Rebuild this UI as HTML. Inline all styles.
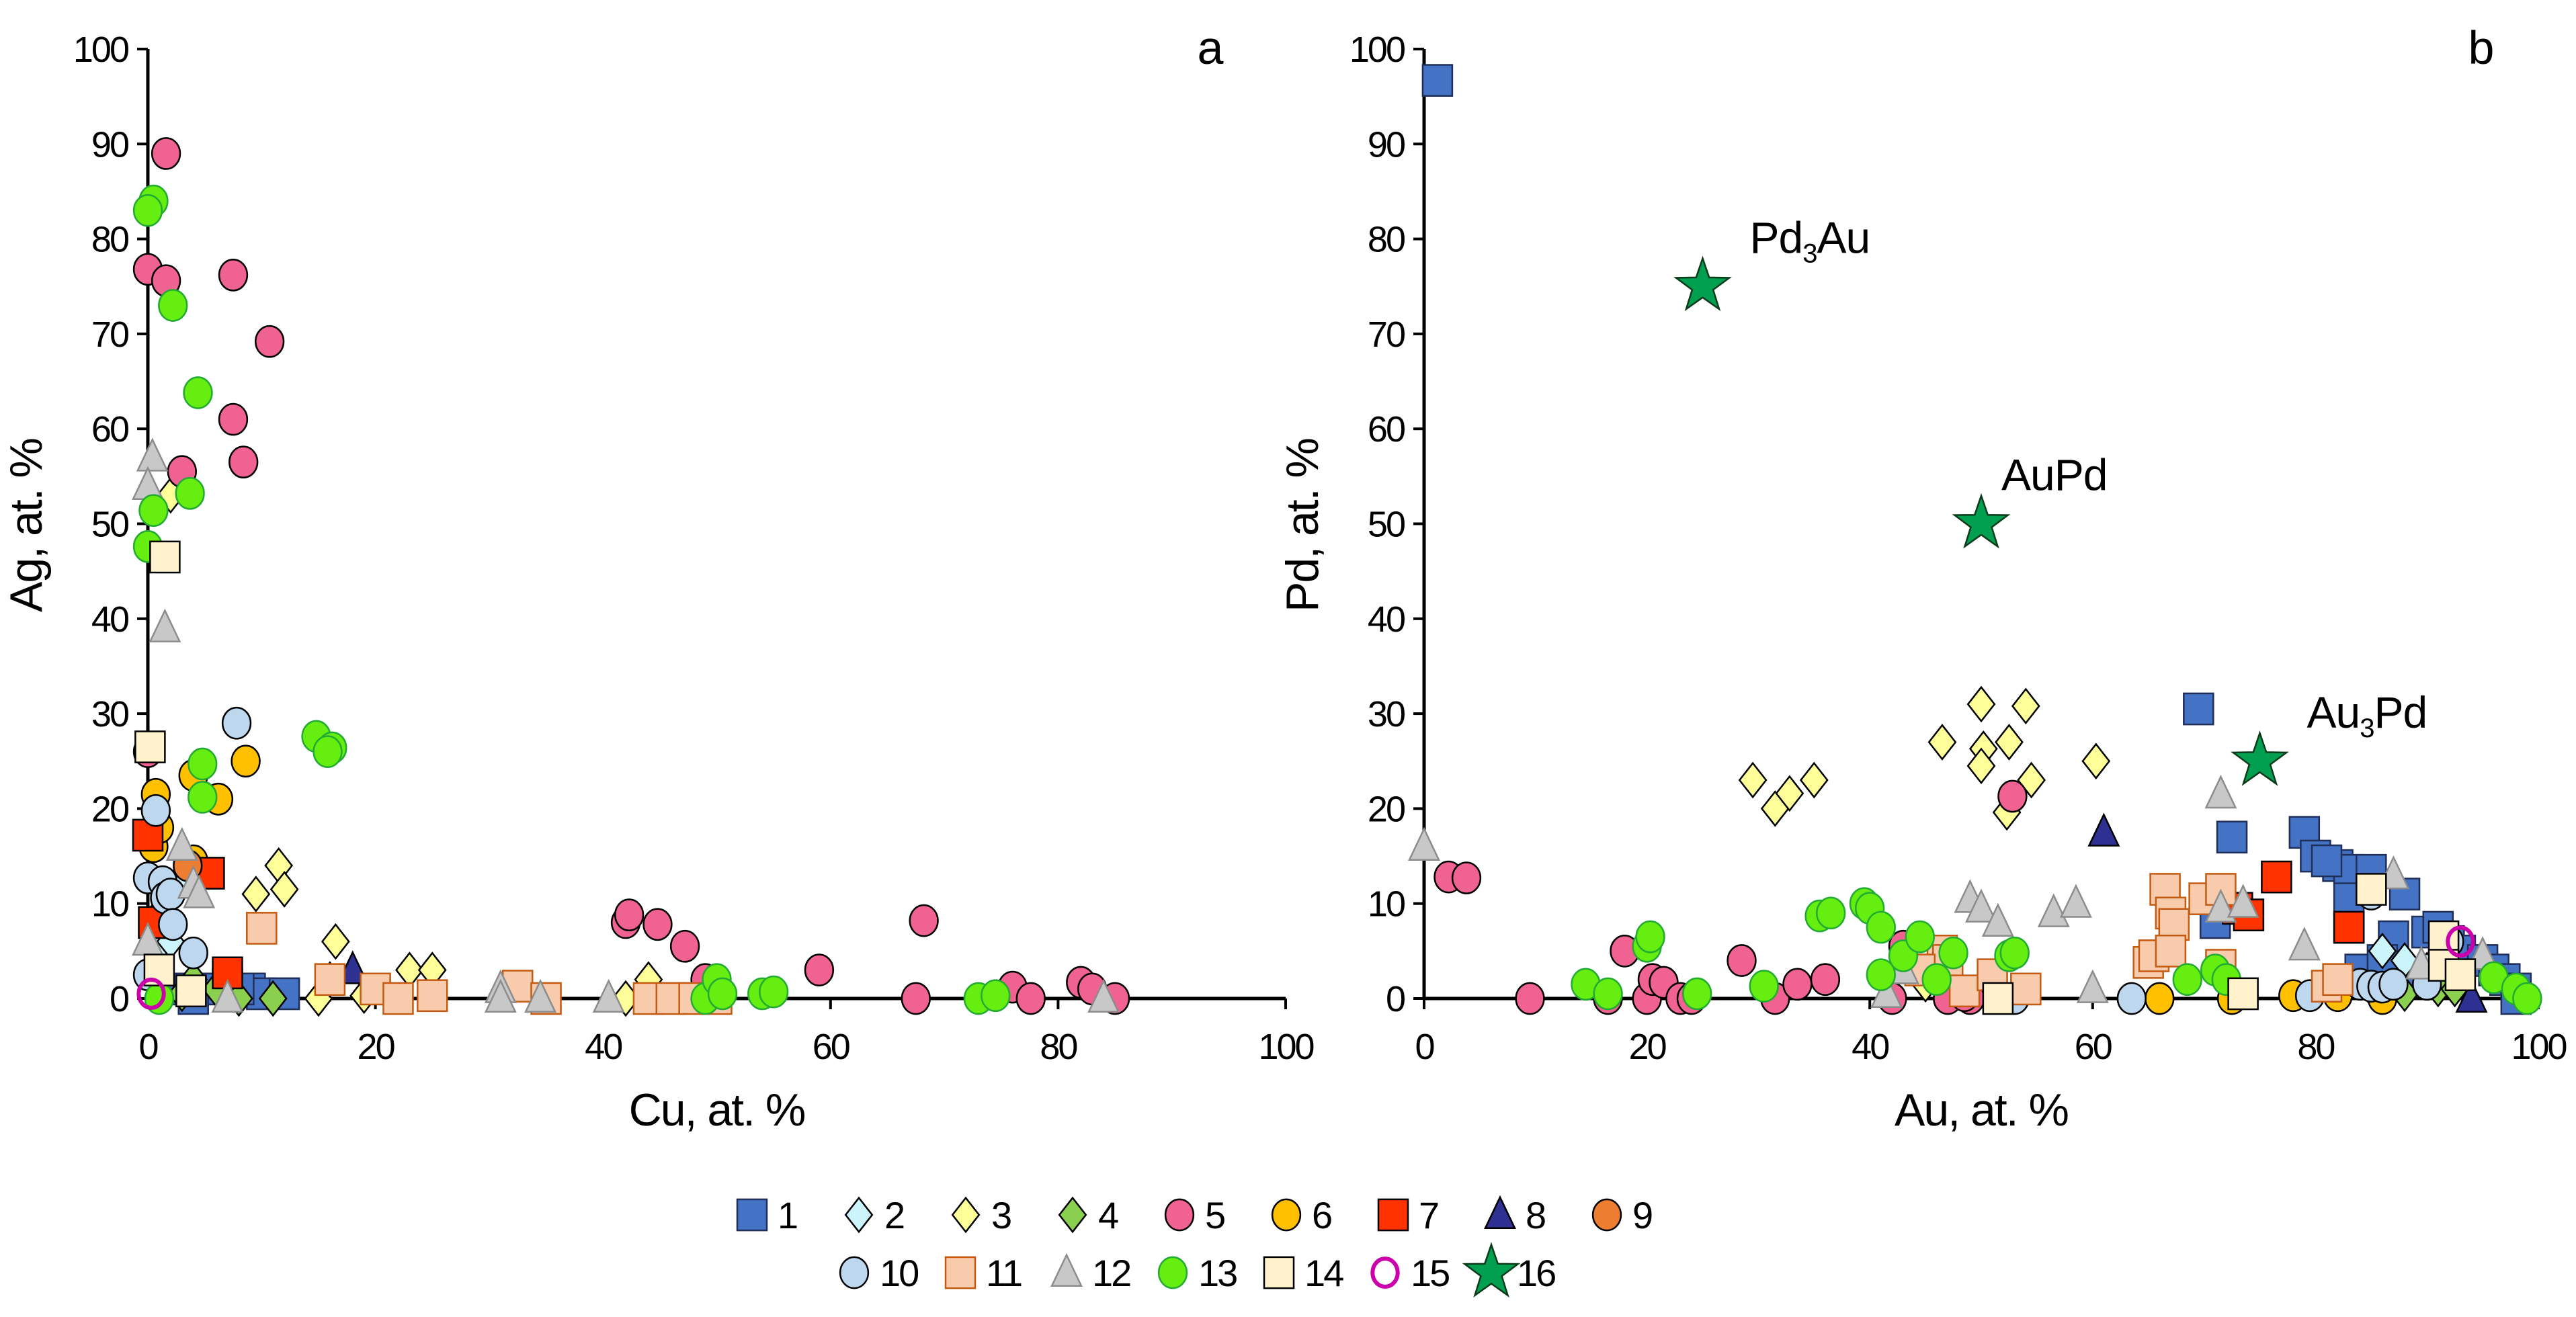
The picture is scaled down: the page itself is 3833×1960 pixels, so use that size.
<!DOCTYPE html>
<html><head><meta charset="utf-8">
<style>
html,body{margin:0;padding:0;background:#fff;}
svg{display:block;font-family:"Liberation Sans",sans-serif;}
</style></head>
<body>
<svg id="chart" width="3833" height="1960" viewBox="0 0 3833 1960" xmlns="http://www.w3.org/2000/svg">
<rect width="3833" height="1960" fill="#fff"/>
<g id="pa"></g>
<g id="pb"></g>
<g id="lg"></g>
</svg>
<script>
const seriesIds = [1,2,3,4,5,6,7,8,9,10,11,12,13,14,15,16];
const xTicks = [0,20,40,60,80,100];
const yTicks = [0,10,20,30,40,50,60,70,80,90,100];
// Panel a: Cu (x) vs Ag (y)
const aX = {
1:[3,5,7,9,10,12,4,8],
2:[1,2,3,1],
3:[9.5,11.5,12,16.5,2,15,16,19,23,25,42,44],
4:[4,6,8,11,3],
5:[1.6,0,1.6,7.5,10.7,7.5,8.4,3,0,42,42.3,44.8,47.2,49,59,67.5,68.2,76,77.6,82,83,85],
6:[8.6,6.2,4,0.7,0.5,4,1],
7:[0,5.4,7,0.5],
8:[18],
9:[3.5],
10:[7.8,0.7,0,1.3,1.5,2,2.2,4,0],
11:[10,16,20,22,25,32.5,35,44,46,48,50],
12:[0.4,0,1.5,3,4,4.5,0,7,31,31,34.5,40.5,84],
13:[0.5,0,2.2,4.4,3.7,0.5,0,14.8,16.2,15.8,4.8,4.8,49,50,50.5,54,55,73,74.5,1],
14:[1.5,0.2,1,3.8],
15:[0.3],
16:[]
};
const aY = {
1:[1,1,1.5,1,0.5,0.5,0,1],
2:[5,6,12,9],
3:[11,14,11.5,6,53,0,2,0.3,3,3,0,2],
4:[2,1,0,0,0.5],
5:[89,76.8,75.6,76.2,69.2,61,56.5,55.5,26,8,8.8,7.8,5.5,2,3,0,8.2,1.2,0,1.7,1,0],
6:[25,21,23.5,21.5,16,14.5,18],
7:[17.2,13.2,2.7,8],
8:[3],
9:[14],
10:[29,19.8,12.7,12.3,10.6,11,7.8,4.8,2.5],
11:[7.4,2,1,0,0.3,1.3,0,0,0,0,0],
12:[57,54,39,16,12,11,6,0,1,0,0,0,0],
13:[84,83,73,63.8,53.2,51.4,47.6,27.6,26.4,26,24.7,21.2,0,2,0.5,0.5,0.7,0,0.3,0],
14:[46.5,26.5,3,0.8],
15:[0.5],
16:[]
};
// Panel b: Au (x) vs Pd (y)
const bX = {
1:[1.2,69.5,72.5,79,80,82,83,85,88,81,83,83,87,71,84,90,91,92,93,95,96,97,98,98,86,89],
2:[86,88,85,90],
3:[29.5,31.5,32.8,35,46.5,50,54,50.2,50,52.5,54.5,52.3,60.3,45],
4:[88,91,92.5,83],
5:[2.2,3.8,18,9.5,16.5,20,20.5,21.5,23,24,28.5,31.5,33.5,36,42,43,47,49,52.8,48.5],
6:[66,72.5,78,82,86],
7:[76.5,73,74,83],
8:[61,94],
9:[],
10:[63.5,53,79.5,84,85,86,87,90,92,85],
11:[66.5,67,67.3,70,71.5,71.5,65,65.5,67,46.5,47,48.5,51,54,81,82,44.5],
12:[0,71.5,49,50,51.5,56.5,58.5,71.5,73.5,79,87,89.5,95,41.5,43,60],
13:[14.5,16.5,20,20.3,24.5,30.5,35.5,36.5,39.5,40,41,41,43,44.5,46,47.5,52.5,53,68.5,71,72,96,98,99],
14:[51.5,73.5,85,91.5,91.5,93],
15:[93],
16:[25,50,75]
};
const bY = {
1:[96.7,30.5,17,17.5,15,14,13.5,13.5,11,14.5,10.5,7.5,6.5,8,3,7,7.5,6,5,4,3,2,1,0,4,2],
2:[5,4,1,3],
3:[23,20,21.6,23,27,31,30.8,26.3,24.5,27,23,19.6,25,1.5],
4:[0.5,1,1,1.5],
5:[12.8,12.7,5,0,0,0,2,1.7,0,0,4,0,1.5,2,0,5.5,0,0,21.3,0.3],
6:[0,0,0.3,0.3,0],
7:[12.8,9.5,8.8,7.5],
8:[17.5,0],
9:[],
10:[0,0,0.3,1.5,1.3,1.2,1.5,1.5,6,11],
11:[11.5,9,7.8,10.5,11.5,3.5,3.8,4.5,5,5,4,0.8,2.5,1,1.3,2,3],
12:[16,21.5,10.5,9.5,8,9,10,9.5,10,5.5,13,3.5,4.5,0.5,3,1],
13:[1.5,0.5,5.5,6.5,0.5,1.3,8.7,9,10,9.5,7.5,2.5,4.5,6.5,2,4.8,4.5,4.8,2,3,2,2.2,1,0],
14:[0,0.5,11.5,6.5,3.5,2.5],
15:[6],
16:[75,50,25]
};
const starLabels = [["Pd","3","Au"],["Au","Pd",""],["Au","3","Pd"]];

const NS="http://www.w3.org/2000/svg";
function mk(tag,attrs,parent){const e=document.createElementNS(NS,tag);for(const k in attrs)e.setAttribute(k,attrs[k]);parent.appendChild(e);return e;}
const styles={
1:{s:'sq',f:'#4472c4',k:'#1f2f5a',w:2.5},
2:{s:'di',f:'#ccf5fb',k:'#000',w:2.5},
3:{s:'di',f:'#ffff99',k:'#000',w:2.5},
4:{s:'di',f:'#8bcf4f',k:'#000',w:2.5},
5:{s:'ci',f:'#f06292',k:'#000',w:2.5},
6:{s:'ci',f:'#ffc000',k:'#000',w:2.5},
7:{s:'sq',f:'#ff3300',k:'#000',w:2.5},
8:{s:'tr',f:'#2e3192',k:'#000',w:2.5},
9:{s:'ci',f:'#ed7d31',k:'#000',w:2.5},
10:{s:'ci',f:'#bdd7ee',k:'#000',w:2.5},
11:{s:'sq',f:'#f8cbad',k:'#c55a11',w:2.5},
12:{s:'tr',f:'#c8c8c8',k:'#8c8c8c',w:2.5},
13:{s:'ci',f:'#66ee11',k:'#22aa33',w:2.5},
14:{s:'sq',f:'#fff2cc',k:'#000',w:2.5},
15:{s:'oc',f:'none',k:'#cc00aa',w:6},
16:{s:'st',f:'#00a050',k:'#0a3a1a',w:2.5}
};
function marker(g,id,cx,cy,sc){
  const st=styles[id];sc=(sc||1)*1.1;let e;
  const common={fill:st.f,stroke:st.k,'stroke-width':st.w};
  if(st.s==='sq'){e=mk('rect',Object.assign({x:cx-20*sc,y:cy-21*sc,width:40*sc,height:42*sc},common),g);}
  else if(st.s==='di'){e=mk('polygon',Object.assign({points:`${cx},${cy-23*sc} ${cx+18*sc},${cy} ${cx},${cy+23*sc} ${cx-18*sc},${cy}`},common),g);}
  else if(st.s==='ci'){e=mk('ellipse',Object.assign({cx:cx,cy:cy,rx:19*sc,ry:21*sc},common),g);}
  else if(st.s==='oc'){e=mk('ellipse',Object.assign({cx:cx,cy:cy,rx:17*sc,ry:19*sc},common),g);}
  else if(st.s==='tr'){e=mk('polygon',Object.assign({points:`${cx},${cy-24*sc} ${cx+20*sc},${cy+18*sc} ${cx-20*sc},${cy+18*sc}`},common),g);}
  else {let p=[];for(let i=0;i<10;i++){const r=i%2?13*sc:33*sc;const a=-Math.PI/2+i*Math.PI/5;p.push((cx+r*Math.cos(a)).toFixed(1)+','+(cy+r*Math.sin(a)).toFixed(1));}
    e=mk('polygon',Object.assign({points:p.join(' ')},common),g);}
  return e;
}
function panel(gid,x0,x1,X,Y,xt,yt,letter,lx){
  const g=document.getElementById(gid);
  const y0=1486,y1=73;
  const sx=v=>x0+(x1-x0)*v/100, sy=v=>y0-(y0-y1)*v/100;
  const ax=mk('g',{},g);
  
  
  mk('line',{x1:x0,y1:y0+2,x2:x0,y2:y1,stroke:'#000','stroke-width':5},ax);
  mk('line',{x1:x0-2,y1:y0,x2:x1,y2:y0,stroke:'#000','stroke-width':5},ax);
  yTicks.forEach(v=>{
    mk('line',{x1:x0-16,y1:sy(v),x2:x0,y2:sy(v),stroke:'#000','stroke-width':4},ax);
    const t=mk('text',{x:x0-30,y:sy(v)+19,'text-anchor':'end','font-size':54,'letter-spacing':-3,fill:'#000'},ax);
    t.textContent=v;
    
    
  });
  xTicks.forEach(v=>{
    mk('line',{x1:sx(v),y1:y0,x2:sx(v),y2:y0+16,stroke:'#000','stroke-width':4},ax);
    const t=mk('text',{x:sx(v),y:y0+90,'text-anchor':'middle','font-size':54,'letter-spacing':-3,fill:'#000'},ax);
    t.textContent=v;
    
    
  });
  const xt_=mk('text',{x:(x0+x1)/2,y:1675,'text-anchor':'middle','font-size':68,'letter-spacing':-2,fill:'#000'},g);
  xt_.textContent=xt;
  
  
  const ytx=x0-158;
  const yt_=mk('text',{x:ytx,y:782,'text-anchor':'middle','font-size':68,'letter-spacing':-2,fill:'#000',transform:`rotate(-90 ${ytx} 782)`},g);
  yt_.textContent=yt;
  
  
  const lt=mk('text',{x:lx,y:95,'text-anchor':'middle','font-size':70,fill:'#000'},g);
  lt.textContent=letter;
  
  
  seriesIds.forEach(id=>{
    const xs=X[id]||[],ys=Y[id]||[];
    if(!xs.length)return;
    const sg=mk('g',{},g);
    
    
    xs.forEach((v,i)=>{
      const m=marker(sg,id,sx(v),sy(ys[i]),id===16?1.15:1);
      
      
    });
  });
  return {sx,sy,g};
}
panel('pa',220,1913,aX,aY,'Cu, at. %','Ag, at. %','a',1801);
const pb=panel('pb',2119,3777,bX,bY,'Au, at. %','Pd, at. %','b',3692);
bX[16].forEach((v,i)=>{
  const L=starLabels[i];
  const t=mk('text',{x:pb.sx(v)+(i===1?30:70),y:pb.sy(bY[16][i])-50,'font-size':66,'letter-spacing':-1,fill:'#000'},pb.g);
  
  
  if(i===1){t.textContent=L[0]+L[1];}
  else{
    const a=mk('tspan',{},t);a.textContent=L[0];
    const b=mk('tspan',{'font-size':40,dy:14},t);b.textContent=L[1];
    const c=mk('tspan',{dy:-14},t);c.textContent=L[2];
  }
});
// legend
const lgRow1=[1,2,3,4,5,6,7,8,9], lgRow2=[10,11,12,13,14,15,16];
const lg=document.getElementById('lg');
function legendItem(id,x,y){
  const g=mk('g',{},lg);
  
  
  marker(g,id,x,y,id===16?1.15:1);
  const t=mk('text',{x:x+38,y:y+20,'font-size':56,'letter-spacing':-3,fill:'#000'},g);
  t.textContent=id;
}
lgRow1.forEach((id,i)=>legendItem(id,1119+i*159,1808));
lgRow2.forEach((id,i)=>legendItem(id,1271+i*158,1894));
</script>
</body></html>
